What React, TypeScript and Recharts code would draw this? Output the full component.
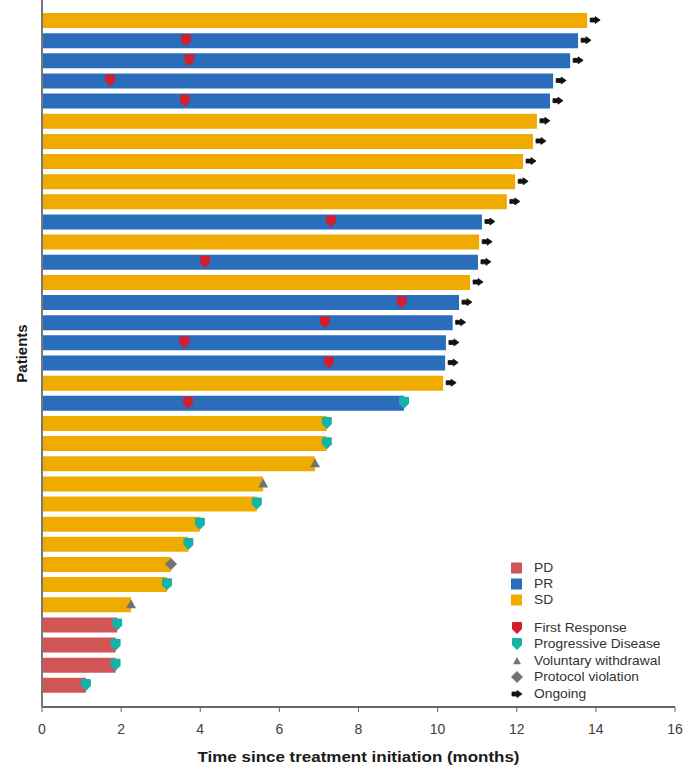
import React from "react";
import { Bar, Cell, ComposedChart, Legend, Scatter, XAxis, YAxis } from "recharts";

const FONT = "'Liberation Sans', Arial, Helvetica, sans-serif";

// one entry per patient, longest time on treatment first
const patients = [
  "P01", "P02", "P03", "P04", "P05", "P06", "P07", "P08", "P09", "P10",
  "P11", "P12", "P13", "P14", "P15", "P16", "P17", "P18", "P19", "P20",
  "P21", "P22", "P23", "P24", "P25", "P26", "P27", "P28", "P29", "P30",
  "P31", "P32", "P33", "P34",
];

// months on treatment
const durations = [
  13.78, 13.55, 13.35, 12.92, 12.84, 12.51, 12.41, 12.16, 11.96, 11.75,
  11.12, 11.05, 11.02, 10.82, 10.54, 10.38, 10.21, 10.19, 10.14, 9.15,
  7.2, 7.2, 6.9, 5.59, 5.43, 3.99, 3.7, 3.26, 3.16, 2.25,
  1.9, 1.86, 1.86, 1.11,
];

// best overall response
const responses = [
  "SD", "PR", "PR", "PR", "PR", "SD", "SD", "SD", "SD", "SD",
  "PR", "SD", "PR", "SD", "PR", "PR", "PR", "PR", "SD", "PR",
  "SD", "SD", "SD", "SD", "SD", "SD", "SD", "SD", "SD", "SD",
  "PD", "PD", "PD", "PD",
];

// month of first response (PR patients only)
const firstResponse: (number | null)[] = [
  null, 3.64, 3.72, 1.72, 3.61, null, null, null, null, null,
  7.3, null, 4.12, null, 9.09, 7.15, 3.6, 7.25, null, 3.69,
  null, null, null, null, null, null, null, null, null, null,
  null, null, null, null,
];

// what happened at the end of each bar
const endEvents = [
  "ongoing", "ongoing", "ongoing", "ongoing", "ongoing", "ongoing", "ongoing", "ongoing", "ongoing", "ongoing",
  "ongoing", "ongoing", "ongoing", "ongoing", "ongoing", "ongoing", "ongoing", "ongoing", "ongoing", "progression",
  "progression", "progression", "withdrawal", "withdrawal", "progression", "progression", "progression", "violation", "progression", "withdrawal",
  "progression", "progression", "progression", "progression",
];

const timeTicks = [0, 2, 4, 6, 8, 10, 12, 14, 16];

const responseItems = ["PD", "PR", "SD"];
const eventItems = [
  { key: "firstResponse", label: "First Response" },
  { key: "progression", label: "Progressive Disease" },
  { key: "withdrawal", label: "Voluntary withdrawal" },
  { key: "violation", label: "Protocol violation" },
  { key: "ongoing", label: "Ongoing" },
];

const COLORS: Record<string, string> = {
  PD: "#D25555",
  PR: "#2A6DBB",
  SD: "#F0AB00",
  firstResponse: "#D21F2E",
  progression: "#13B3A8",
  withdrawal: "#737373",
  violation: "#737373",
  ongoing: "#111111",
};

const endAt = (i: number, kind: string) => (endEvents[i] === kind ? durations[i] : null);

const rows = patients.map((patient, i) => ({
  patient,
  duration: durations[i],
  response: responses[i],
  firstResponse: firstResponse[i],
  progression: endAt(i, "progression"),
  withdrawal: endAt(i, "withdrawal"),
  violation: endAt(i, "violation"),
  ongoing: endAt(i, "ongoing"),
}));

// marker glyphs, centred on (x, y)
const shieldPath = (x: number, y: number) =>
  `M${x - 5},${y - 5} Q${x - 5},${y - 6} ${x - 4},${y - 6} L${x + 4},${y - 6} Q${x + 5},${y - 6} ${x + 5},${y - 5} L${x + 5},${y + 1} L${x},${y + 6} L${x - 5},${y + 1} Z`;
const trianglePath = (x: number, y: number, r: number) =>
  `M${x},${y - r} L${x + r},${y + r * 0.8} L${x - r},${y + r * 0.8} Z`;
const diamondPath = (x: number, y: number, r: number) =>
  `M${x},${y - r} L${x + r},${y} L${x},${y + r} L${x - r},${y} Z`;
const arrowPath = (x: number, y: number) =>
  `M${x - 5},${y - 2} L${x},${y - 2} L${x},${y - 3.5} L${x + 5},${y} L${x},${y + 3.5} L${x},${y + 2} L${x - 5},${y + 2} Z`;

const glyph = (kind: string, x: number, y: number, small = false) => {
  switch (kind) {
    case "firstResponse":
    case "progression":
      return <path d={shieldPath(x, y)} fill={COLORS[kind]} />;
    case "withdrawal":
      return <path d={trianglePath(x, y, small ? 4 : 5)} fill={COLORS[kind]} />;
    case "violation":
      return <path d={diamondPath(x, y, 6)} fill={COLORS[kind]} />;
    default:
      return <path d={arrowPath(x, y)} fill={COLORS[kind]} strokeLinejoin="round" stroke={COLORS[kind]} strokeWidth={0.8} />;
  }
};

type MarkProps = { cx?: number | null; cy?: number | null };

const markShape = (kind: string) => (p: MarkProps) => {
  const { cx, cy } = p;
  if (cx == null || cy == null || !Number.isFinite(cx) || !Number.isFinite(cy)) return <g />;
  // the ongoing arrow sits just past the end of the bar
  return kind === "ongoing" ? glyph(kind, cx + 8, cy) : glyph(kind, cx, cy);
};

function LegendBox() {
  const rowY = [13, 29, 45, 73, 89, 106, 122, 139];
  const label = (text: string, y: number) => (
    <text
      transform={`translate(29, ${y}) scale(1.15, 1)`}
      dy="0.35em"
      fontSize={12}
      fontFamily={FONT}
      fill="#333"
    >
      {text}
    </text>
  );
  return (
    <svg width={185} height={150}>
      {responseItems.map((r, i) => (
        <g key={r}>
          <rect x={6} y={rowY[i] - 5.5} width={11} height={11} fill={COLORS[r]} />
          {label(r, rowY[i])}
        </g>
      ))}
      {eventItems.map((e, i) => (
        <g key={e.key}>
          {glyph(e.key, 12, rowY[i + 3], true)}
          {label(e.label, rowY[i + 3])}
        </g>
      ))}
    </svg>
  );
}

export default function App() {
  return (
    <div style={{ position: "absolute", left: 0, top: 0, background: "#fff" }}>
      <ComposedChart
        width={692}
        height={775}
        layout="vertical"
        data={rows}
        margin={{ top: 0, right: 17, bottom: 0, left: 0 }}
      >
        <XAxis
          type="number"
          domain={[0, 16]}
          ticks={timeTicks}
          height={68}
          tickSize={5}
          tickMargin={12}
          tick={{ fontSize: 14, fill: "#404040", fontFamily: FONT }}
          tickLine={{ stroke: "#666" }}
          axisLine={{ stroke: "#666", strokeWidth: 2 }}
          label={({ viewBox }: any) => (
            <text
              x={viewBox.x + viewBox.width / 2}
              y={viewBox.y + 55}
              textAnchor="middle"
              fontSize={15}
              fontWeight="bold"
              fontFamily={FONT}
              fill="#1a1a1a"
              textLength={322}
              lengthAdjust="spacingAndGlyphs"
            >
              Time since treatment initiation (months)
            </text>
          )}
        />
        <YAxis
          type="category"
          dataKey="patient"
          width={42}
          tick={false}
          tickLine={false}
          padding={{ top: 10, bottom: 12 }}
          axisLine={{ stroke: "#777", strokeWidth: 2 }}
          label={({ viewBox }: any) => {
            const x = viewBox.x + viewBox.width / 2;
            const y = viewBox.y + viewBox.height / 2;
            return (
              <text
                x={x}
                y={y}
                transform={`rotate(-90, ${x}, ${y})`}
                textAnchor="middle"
                dominantBaseline="central"
                fontSize={15}
                fontWeight="bold"
                fontFamily={FONT}
                fill="#1a1a1a"
              >
                Patients
              </text>
            );
          }}
        />
        <Bar dataKey="duration" barSize={15} isAnimationActive={false}>
          {rows.map((r) => (
            <Cell key={r.patient} fill={COLORS[r.response]} />
          ))}
        </Bar>
        {eventItems.map((e) => (
          <Scatter
            key={e.key}
            dataKey={e.key}
            shape={markShape(e.key)}
            isAnimationActive={false}
          />
        ))}
        <Legend
          layout="horizontal"
          verticalAlign="middle"
          align="center"
          content={() => <LegendBox />}
          wrapperStyle={{ position: "absolute", left: 505, top: 555, width: 185, height: 150 }}
        />
      </ComposedChart>
    </div>
  );
}
